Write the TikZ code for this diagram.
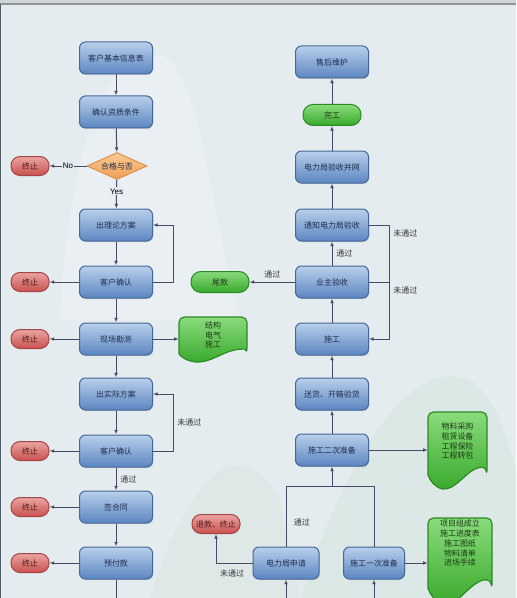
\documentclass[tikz,border=0pt]{standalone}
\usepackage{fontspec}
\newfontfamily\cjk{Noto Sans CJK SC}
\newfontfamily\lat{Liberation Sans}
\usepackage{tikz}
\usetikzlibrary{arrows.meta,shapes.geometric,shadows}
\usepackage{xcolor}
\definecolor{bg}{HTML}{E4ECEF}
\definecolor{hill}{HTML}{D3E5DA}
\definecolor{topbar}{HTML}{D0D4D7}
\definecolor{framecol}{HTML}{8E9499}
\definecolor{framecolb}{HTML}{4F5D6B}
\definecolor{boxtop}{HTML}{B9CFEB}
\definecolor{boxbot}{HTML}{5B86C1}
\definecolor{boxline}{HTML}{46689A}
\definecolor{boxtext}{HTML}{1E2D4F}
\definecolor{stoptop}{HTML}{EBA3A1}
\definecolor{stopbot}{HTML}{C8524F}
\definecolor{stopline}{HTML}{A54443}
\definecolor{stoptext}{HTML}{4A1816}
\definecolor{gotop}{HTML}{8ADB7C}
\definecolor{gobot}{HTML}{38A92C}
\definecolor{goline}{HTML}{2B8A22}
\definecolor{gotext}{HTML}{1C3A16}
\definecolor{dtop}{HTML}{F9C994}
\definecolor{dbot}{HTML}{F0A058}
\definecolor{dline}{HTML}{DD9048}
\definecolor{linecol}{HTML}{4B4868}
\definecolor{lbltext}{HTML}{333338}

\newcommand{\docshape}[4]{%
  \path[draw=goline,line width=0.35mm,top color=gotop,bottom color=gobot,
        shift={(#1,#2)},xscale=#3,yscale=#4]
    [rounded corners=1.6mm] (0,0.82) -- (0,0) -- (1,0) -- (1,0.82) [sharp corners]
    .. controls (0.97,0.72) and (0.9,0.70) .. (0.8,0.74)
    .. controls (0.62,0.8) and (0.45,1.02) .. (0.25,1.0)
    .. controls (0.12,0.98) and (0.04,0.9) .. (0,0.82) -- cycle;}

\begin{document}
\begin{tikzpicture}[x=0.3mm,y=-0.3mm,
  every node/.style={font=\cjk\fontsize{6.8}{8.5}\selectfont},
  box/.style={draw=boxline,line width=0.3mm,rounded corners=1.8mm,top color=boxtop,bottom color=boxbot,
    minimum width=21.9mm,minimum height=9.6mm,inner sep=1pt,text=boxtext,
    drop shadow={opacity=0.25,shadow xshift=0.7pt,shadow yshift=-0.9pt}},
  stopbox/.style={draw=stopline,line width=0.3mm,rounded corners=2.7mm,top color=stoptop,bottom color=stopbot,
    minimum width=11.4mm,minimum height=5.7mm,inner sep=1pt,text=stoptext},
  gobox/.style={draw=goline,line width=0.3mm,rounded corners=3mm,top color=gotop,bottom color=gobot,
    minimum width=17.4mm,minimum height=6.3mm,inner sep=1pt,text=gotext},
  choice/.style={diamond,draw=dline,line width=0.3mm,top color=dtop,bottom color=dbot,
    minimum width=18mm,minimum height=8.1mm,inner sep=0pt,aspect=2.2,text=boxtext},
  doctext/.style={align=center,text=gotext,inner sep=0pt},
  conn/.style={draw=linecol,line width=0.3mm},
  arr/.style={conn,-{Latex[length=4pt,width=3.2pt]}},
  lbl/.style={text=lbltext},
  yesno/.style={font=\lat\fontsize{6.8}{8}\selectfont,fill=bg,inner sep=1pt,text=black}]

  \clip (0,0) rectangle (516,598);
  \fill[bg] (0,0) rectangle (516,598);
  \fill[white,opacity=0.2] (60,320) .. controls (70,120) and (120,30) .. (170,60)
    .. controls (200,90) and (210,200) .. (240,320) -- cycle;
  \fill[hill,opacity=0.45] (300,598) .. controls (360,420) and (420,360) .. (470,380)
    .. controls (500,400) and (510,450) .. (516,470) -- (516,598) -- cycle;
  \fill[hill,opacity=0.35] (150,598) .. controls (190,470) and (240,430) .. (280,500) -- (300,598) -- cycle;
  \fill[topbar] (0,0) rectangle (516,3.5);
  \draw[framecol,line width=0.45mm] (0,4) -- (516,4);
  \draw[framecolb,line width=0.45mm] (0.7,4) -- (0.7,598);

  \docshape{179}{317}{68}{45}
  \docshape{428}{412}{59}{77}
  \docshape{428}{518}{64}{86}

  \node[box] (info) at (116,58) {客户基本信息表};
  \node[box] (zizhi) at (116,112) {确认资质条件};
  \node[choice] (hege) at (117,166) {合格与否};
  \node[stopbox] (stop1) at (30,166) {终止};
  \node[box] (lilun) at (116,225) {出理论方案};
  \node[box] (queren1) at (116,282) {客户确认};
  \node[stopbox] (stop2) at (30,282) {终止};
  \node[box] (kancha) at (116,339) {现场勘测};
  \node[stopbox] (stop3) at (30,339) {终止};
  \node[doctext,minimum width=20.4mm] (jiegou) at (213,335) {结构\\电气\\施工};
  \node[box] (shiji) at (116,394) {出实际方案};
  \node[box] (queren2) at (116,451) {客户确认};
  \node[stopbox] (stop4) at (30,451) {终止};
  \node[box] (hetong) at (116,507) {签合同};
  \node[stopbox] (stop5) at (30,507) {终止};
  \node[box] (yufu) at (116,563) {预付款};
  \node[stopbox] (stop6) at (30,563) {终止};
  \coordinate (yufuout) at (116,600);

  \node[box] (shouhou) at (332,62) {售后维护};
  \node[gobox] (wangong) at (332,115) {完工};
  \node[box] (bingwang) at (332,167) {电力局验收并网};
  \node[box] (tongzhi) at (332,225) {通知电力局验收};
  \node[box] (yezhu) at (332,282) {业主验收};
  \node[gobox] (weikuan) at (220,282) {尾款};
  \node[box] (shigong) at (332,339) {施工};
  \node[box] (songhuo) at (332,394) {送货、开箱验货};
  \node[box] (erci) at (332,450) {施工二次准备};
  \node[doctext,minimum width=17.7mm] (wuliao) at (457.5,441) {物料采购\\租赁设备\\工程保险\\工程转包};
  \coordinate (merge) at (332,486);
  \node[stopbox,minimum width=14.4mm] (tuikuan) at (216,524) {退款、终止};
  \node[box,minimum width=19.8mm] (dianli) at (286,563) {电力局申请};
  \node[box,minimum width=18.3mm] (yici) at (374,563) {施工一次准备};
  \node[doctext,minimum width=19.2mm] (xiangmu) at (460,543) {项目组成立\\施工进度表\\施工图纸\\物料清单\\进场手续};
  \coordinate (dianliin) at (286,600);
  \coordinate (yiciin) at (374,600);

  \draw[arr] (info) -- (zizhi);
  \draw[arr] (zizhi) -- (hege);
  \draw[arr] (hege) -- node[yesno] {No} (stop1);
  \draw[arr] (hege) -- node[yesno,pos=0.4] {Yes} (lilun);
  \draw[arr] (lilun) -- (queren1);
  \draw[arr] (queren1) -- (stop2);
  \draw[arr] (queren1.east) -- ++(20,0) |- (lilun.east);
  \draw[arr] (queren1) -- (kancha);
  \draw[arr] (kancha) -- (stop3);
  \draw[arr] (kancha.east) -- (kancha.east -| jiegou.west);
  \draw[arr] (kancha) -- (shiji);
  \draw[arr] (shiji) -- (queren2);
  \draw[arr] (queren2) -- (stop4);
  \draw[arr] (queren2.east) -- ++(20,0) |- node[lbl,pos=0.25,right] {未通过} (shiji.east);
  \draw[arr] (queren2) -- node[lbl,right] {通过} (hetong);
  \draw[arr] (hetong) -- (stop5);
  \draw[arr] (hetong) -- (yufu);
  \draw[arr] (yufu) -- (stop6);
  \draw[conn] (yufu) -- (yufuout);

  \draw[arr] (wangong) -- (shouhou);
  \draw[arr] (bingwang) -- (wangong);
  \draw[arr] (tongzhi) -- (bingwang);
  \draw[arr] (yezhu) -- node[lbl,right] {通过} (tongzhi);
  \draw[arr] (yezhu) -- node[lbl,above] {通过} (weikuan);
  \draw[arr] (tongzhi.east) -- ++(20,0) node[lbl,below right] {未通过} |- (shigong.east);
  \draw[conn] (yezhu.east) -- ++(20,0) node[lbl,below right] {未通过};
  \draw[arr] (shigong) -- (yezhu);
  \draw[arr] (songhuo) -- (shigong);
  \draw[arr] (erci) -- (songhuo);
  \draw[arr] (erci.east) -- (erci.east -| wuliao.west);
  \draw[arr] (merge) -- (erci);
  \draw[conn] (dianli.north) -- node[lbl,right,pos=0.4,xshift=3pt] {通过} (dianli.north |- merge) -| (yici.north);
  \draw[arr] (dianli.west) -| node[lbl,below=2pt,pos=0.28] {未通过} (tuikuan.south);
  \draw[arr] (yici.east) -- (yici.east -| xiangmu.west);
  \draw[arr] (dianliin) -- (dianli);
  \draw[arr] (yiciin) -- (yici);
\end{tikzpicture}
\end{document}
